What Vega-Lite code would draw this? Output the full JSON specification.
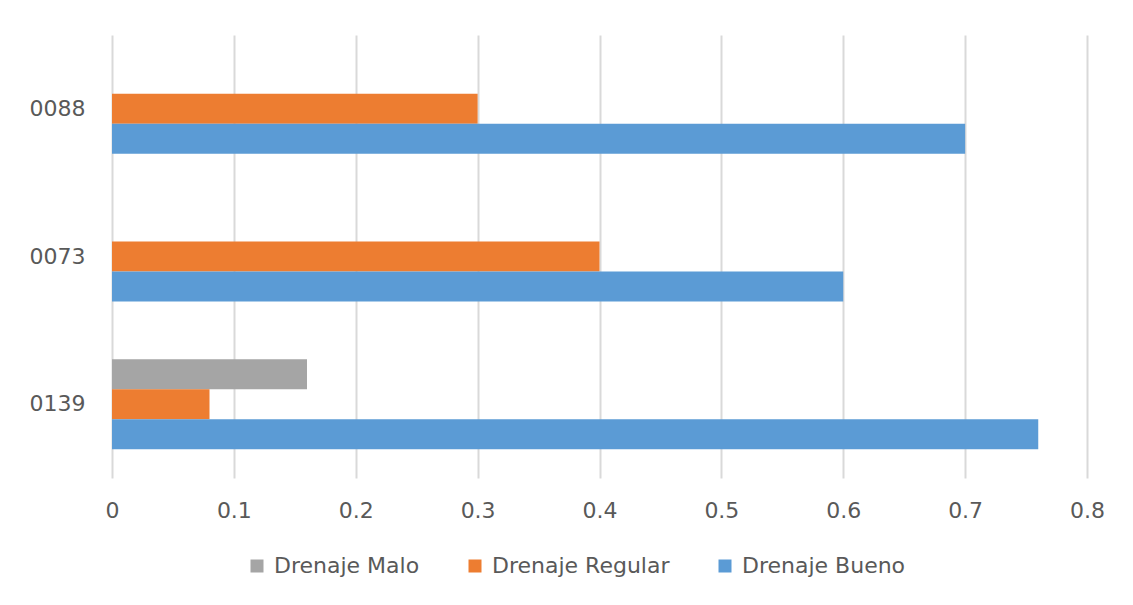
{
  "$schema": "https://vega.github.io/schema/vega-lite/v6.json",
  "autosize": "none",
  "width": 975,
  "height": 443,
  "padding": {"left": 112, "top": 35, "right": 46, "bottom": 127},
  "background": "white",
  "config": {
    "view": {"stroke": null},
    "font": "DejaVu Sans"
  },
  "data": {
    "values": [
      {"sitio": "0088", "serie": "Drenaje Malo", "valor": 0},
      {"sitio": "0088", "serie": "Drenaje Regular", "valor": 0.3},
      {"sitio": "0088", "serie": "Drenaje Bueno", "valor": 0.7},
      {"sitio": "0073", "serie": "Drenaje Malo", "valor": 0},
      {"sitio": "0073", "serie": "Drenaje Regular", "valor": 0.4},
      {"sitio": "0073", "serie": "Drenaje Bueno", "valor": 0.6},
      {"sitio": "0139", "serie": "Drenaje Malo", "valor": 0.16},
      {"sitio": "0139", "serie": "Drenaje Regular", "valor": 0.08},
      {"sitio": "0139", "serie": "Drenaje Bueno", "valor": 0.76}
    ]
  },
  "mark": {"type": "bar"},
  "encoding": {
    "y": {
      "field": "sitio",
      "type": "nominal",
      "scale": {"domain": ["0088", "0073", "0139"], "paddingInner": 0.39, "paddingOuter": 0.195},
      "axis": {
        "title": null,
        "ticks": false,
        "domain": false,
        "labelFontSize": 22,
        "labelColor": "#595959",
        "labelPadding": 27,
        "labelFont": "DejaVu Sans"
      }
    },
    "yOffset": {
      "field": "serie",
      "type": "nominal",
      "scale": {"domain": ["Drenaje Malo", "Drenaje Regular", "Drenaje Bueno"], "paddingInner": 0, "paddingOuter": 0}
    },
    "x": {
      "field": "valor",
      "type": "quantitative",
      "scale": {"domain": [0, 0.8], "nice": false},
      "axis": {
        "title": null,
        "values": [0, 0.1, 0.2, 0.3, 0.4, 0.5, 0.6, 0.7, 0.8],
        "format": "~g",
        "ticks": false,
        "domain": false,
        "grid": true,
        "gridColor": "#d9d9d9",
        "gridWidth": 2,
        "labelFontSize": 22,
        "labelColor": "#595959",
        "labelPadding": 22,
        "labelFont": "DejaVu Sans",
        "labelFlush": false
      }
    },
    "color": {
      "field": "serie",
      "type": "nominal",
      "scale": {
        "domain": ["Drenaje Malo", "Drenaje Regular", "Drenaje Bueno"],
        "range": ["#A5A5A5", "#ED7D31", "#5B9BD5"]
      },
      "legend": {
        "title": null,
        "orient": "none",
        "direction": "horizontal",
        "legendX": 134,
        "legendY": 520,
        "symbolType": "square",
        "symbolSize": 169,
        "symbolStrokeWidth": 0,
        "labelFontSize": 22,
        "labelLimit": 0,
        "labelColor": "#595959",
        "labelFont": "DejaVu Sans",
        "labelOffset": 6,
        "columnPadding": 44
      }
    }
  }
}
